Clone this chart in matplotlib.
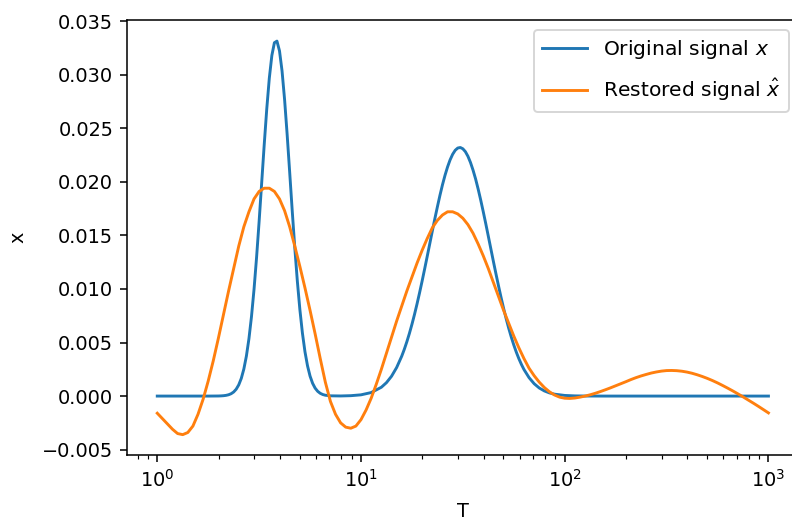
import numpy as np
import matplotlib
matplotlib.use("Agg")
import matplotlib.pyplot as plt

# ---- original signal: sample exponents (log10 T) and values ----
log_T_original = [
    0.0, 0.1, 0.2, 0.25, 0.3, 0.3125, 0.325, 0.3375, 0.35, 0.3625,
    0.375, 0.3875, 0.4, 0.4125, 0.425, 0.4375, 0.45, 0.4625, 0.475, 0.4875,
    0.5, 0.5125, 0.525, 0.5375, 0.55, 0.5625, 0.575, 0.5875, 0.6, 0.6125,
    0.625, 0.6375, 0.65, 0.6625, 0.675, 0.6875, 0.7, 0.7125, 0.725, 0.7375,
    0.75, 0.7625, 0.775, 0.7875, 0.8, 0.8125, 0.825, 0.85, 0.9, 0.95,
    1.0, 1.05, 1.1, 1.125, 1.15, 1.175, 1.2, 1.2125, 1.225, 1.2375,
    1.25, 1.2625, 1.275, 1.2875, 1.3, 1.3125, 1.325, 1.3375, 1.35, 1.3625,
    1.375, 1.3875, 1.4, 1.4125, 1.425, 1.4375, 1.45, 1.4625, 1.475, 1.4875,
    1.5, 1.5125, 1.525, 1.5375, 1.55, 1.5625, 1.575, 1.5875, 1.6, 1.6125,
    1.625, 1.6375, 1.65, 1.6625, 1.675, 1.6875, 1.7, 1.7125, 1.725, 1.7375,
    1.75, 1.7625, 1.775, 1.7875, 1.8, 1.825, 1.85, 1.875, 1.9, 1.925,
    1.95, 2.0, 2.05, 2.1, 2.2, 3.0,
]
original = [
    0.0, 0.0, 0.0, 0.0, 0.000008, 0.0000174, 0.0000344, 0.0000659, 0.000122, 0.00022,
    0.000381, 0.000642, 0.001047, 0.001652, 0.002524, 0.003732, 0.005349, 0.007417, 0.00996, 0.01295,
    0.0163, 0.01988, 0.02346, 0.02681, 0.02967, 0.03179, 0.03298, 0.03313, 0.03222, 0.03035,
    0.02767, 0.02443, 0.02089, 0.01729, 0.01386, 0.01075, 0.00808, 0.00588, 0.00414, 0.002826,
    0.001866, 0.001193, 0.000739, 0.000443, 0.000257, 0.000144, 0.0000787, 0.000023, 0.0000104, 0.0000368,
    0.000116, 0.000327, 0.000823, 0.001252, 0.001852, 0.002664, 0.003724, 0.004357, 0.005062, 0.005839,
    0.006689, 0.007607, 0.008593, 0.009637, 0.01073, 0.01187, 0.01303, 0.01421, 0.01539, 0.01655,
    0.01766, 0.01873, 0.01972, 0.02061, 0.02139, 0.02205, 0.02257, 0.02294, 0.02315, 0.0232,
    0.02308, 0.02281, 0.02238, 0.0218, 0.02109, 0.02027, 0.01933, 0.01831, 0.01722, 0.01609,
    0.01492, 0.01374, 0.01256, 0.01141, 0.01029, 0.00921, 0.00819, 0.00723, 0.00634, 0.00552,
    0.00477, 0.004095, 0.00349, 0.002954, 0.00248, 0.00172, 0.001155, 0.000755, 0.00048, 0.000296,
    0.000178, 0.000059, 0.0000175, 0.000005, 0.0, 0.0,
]

# ---- restored signal on a log-spaced grid 1..1000 (121 samples) ----
T_restored = np.logspace(0, 3, 121)
restored = [
    -0.0016, -0.0021, -0.0026, -0.0031, -0.0035, -0.0036, -0.0034, -0.0028, -0.0017, -0.0003,
    0.0014, 0.0033, 0.0054, 0.0076, 0.0098, 0.0119, 0.0140, 0.0158, 0.0172, 0.0184,
    0.0191, 0.0194, 0.0194, 0.0191, 0.0184, 0.0173, 0.0158, 0.0140, 0.0121, 0.0101,
    0.0080, 0.0058, 0.0035, 0.0013, -0.0005, -0.0017, -0.0025, -0.0029, -0.0030, -0.0028,
    -0.0022, -0.0013, -0.0002, 0.0011, 0.0025, 0.0040, 0.0055, 0.0070, 0.0084, 0.0098,
    0.0111, 0.0124, 0.0136, 0.0147, 0.0157, 0.0164, 0.0169, 0.0172, 0.0172, 0.0170,
    0.0166, 0.0160, 0.0152, 0.0142, 0.0131, 0.0119, 0.0106, 0.0093, 0.0080, 0.0068,
    0.0056, 0.0045, 0.0035, 0.0026, 0.0019, 0.0013, 0.0008, 0.0004, 0.0001, -0.0001,
    -0.0002, -0.00022, -0.00018, -0.0001, 0.0, 0.00012, 0.00026, 0.00042, 0.00059, 0.00077,
    0.00096, 0.00115, 0.00134, 0.00154, 0.00172, 0.00188, 0.00202, 0.00215, 0.00225, 0.00233,
    0.00238, 0.00239, 0.00237, 0.00232, 0.00224, 0.00213, 0.00199, 0.00183, 0.00165, 0.00145,
    0.00123, 0.00099, 0.00074, 0.00048, 0.00021, -0.00007, -0.00036, -0.00065, -0.00095, -0.00126,
    -0.00157,
]

labels = ["Original signal $x$", "Restored signal $\\hat{x}$"]

DPI = 139
fig = plt.figure(figsize=(792 / DPI, 520 / DPI), dpi=DPI)
ax = fig.add_axes([126.7 / 792, 65 / 520, (799 - 126.7) / 792, (455 - 20.0) / 520])

T_original = np.power(10.0, log_T_original)
ax.plot(T_original, original, label=labels[0])
ax.plot(T_restored, restored, label=labels[1])
ax.set_xscale("log")
ax.set_xlim(10 ** -0.15, 10 ** 3.15)
ax.set_ylim(-0.0055, 0.0351)
ax.set_xlabel("T", labelpad=6)
ax.set_ylabel("x", labelpad=7.5)
ax.legend(loc="upper right", fontsize=10.5, labelspacing=0.8, handlelength=2.2)

fig.savefig("out.png", dpi=DPI)
